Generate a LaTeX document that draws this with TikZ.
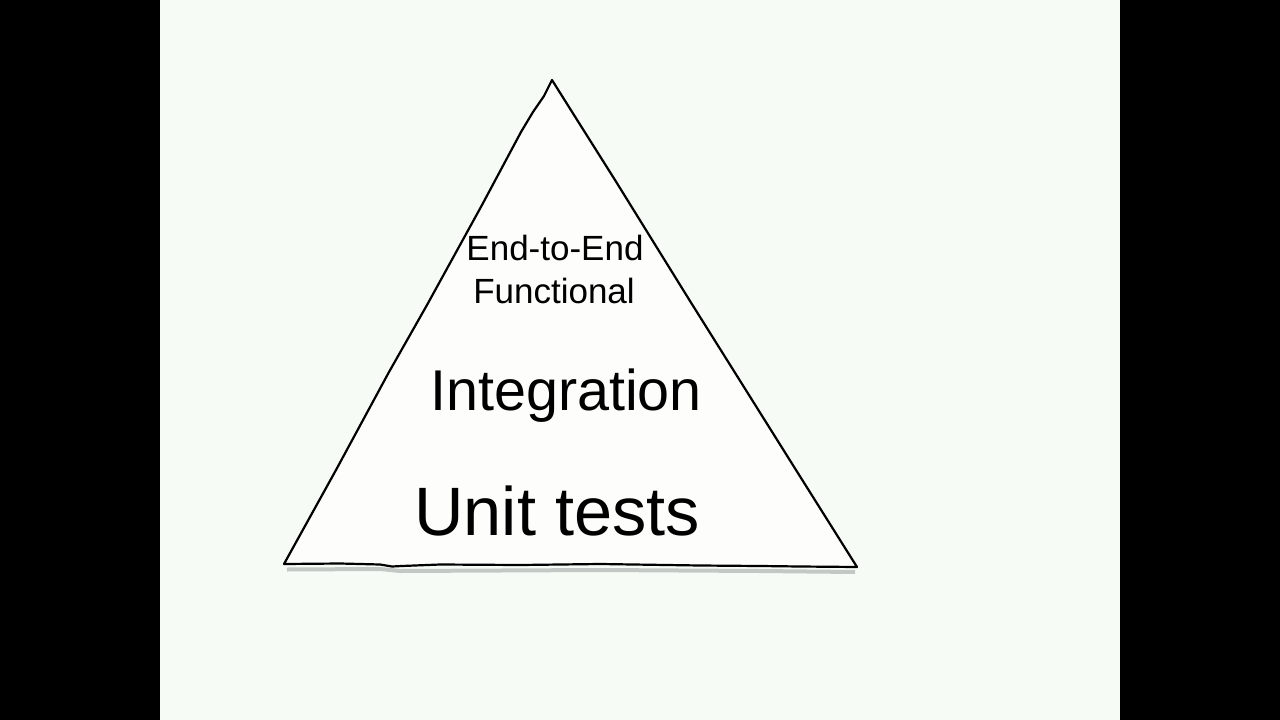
\documentclass[tikz,border=0pt]{standalone}
\usepackage{fontspec}
\setmainfont{Liberation Sans}
\definecolor{bgc}{HTML}{F7FBF5}
\definecolor{shadowc}{HTML}{B8BCB8}
\tikzset{
  lbl/.style={anchor=base, inner sep=0pt, text=black},
  edge/.style={draw=black, line width=2.2pt, line join=round, line cap=round},
}
\begin{document}
\begin{tikzpicture}[x=1pt,y=-1pt]
\useasboundingbox (0,0) rectangle (1280,720);
\fill[black] (0,0) rectangle (1280,720);
\fill[bgc] (160,0) rectangle (1120,720);
% shadow under bottom edge
\draw[shadowc, line width=4pt, opacity=0.8] (287,569.5) -- (380,569) -- (400,571) -- (600,570) -- (760,571) -- (855,572);
% triangle
\coordinate (apex) at (552,80);
\coordinate (bl) at (284,564);
\coordinate (br) at (857,567);
\filldraw[fill=white!70!bgc, edge]
  (apex) -- (544,96) -- (533,112) -- (521,132) -- (482,205) -- (427,305) -- (389,372) -- (336,470) -- (bl)
  -- (340,563.5) -- (380,564.5) -- (392,566.5) -- (402,566) -- (440,564.5) -- (520,565) -- (600,564) -- (700,565.5) -- (760,566) -- (800,566.5) -- (br)
  -- (796,470) -- (690,301) -- (615,180) -- (574,115) -- cycle;
\node[lbl, font=\fontsize{35}{35}\selectfont] (e2e) at (555,260) {End-to-End};
\node[lbl, font=\fontsize{35}{35}\selectfont] (func) at (554,303) {Functional};
\node[lbl, font=\fontsize{57.5}{57.5}\selectfont] (integ) at (566,410) {Integration};
\node[lbl, font=\fontsize{68.5}{68.5}\selectfont] (unit) at (557,535) {Unit tests};
\end{tikzpicture}
\end{document}
